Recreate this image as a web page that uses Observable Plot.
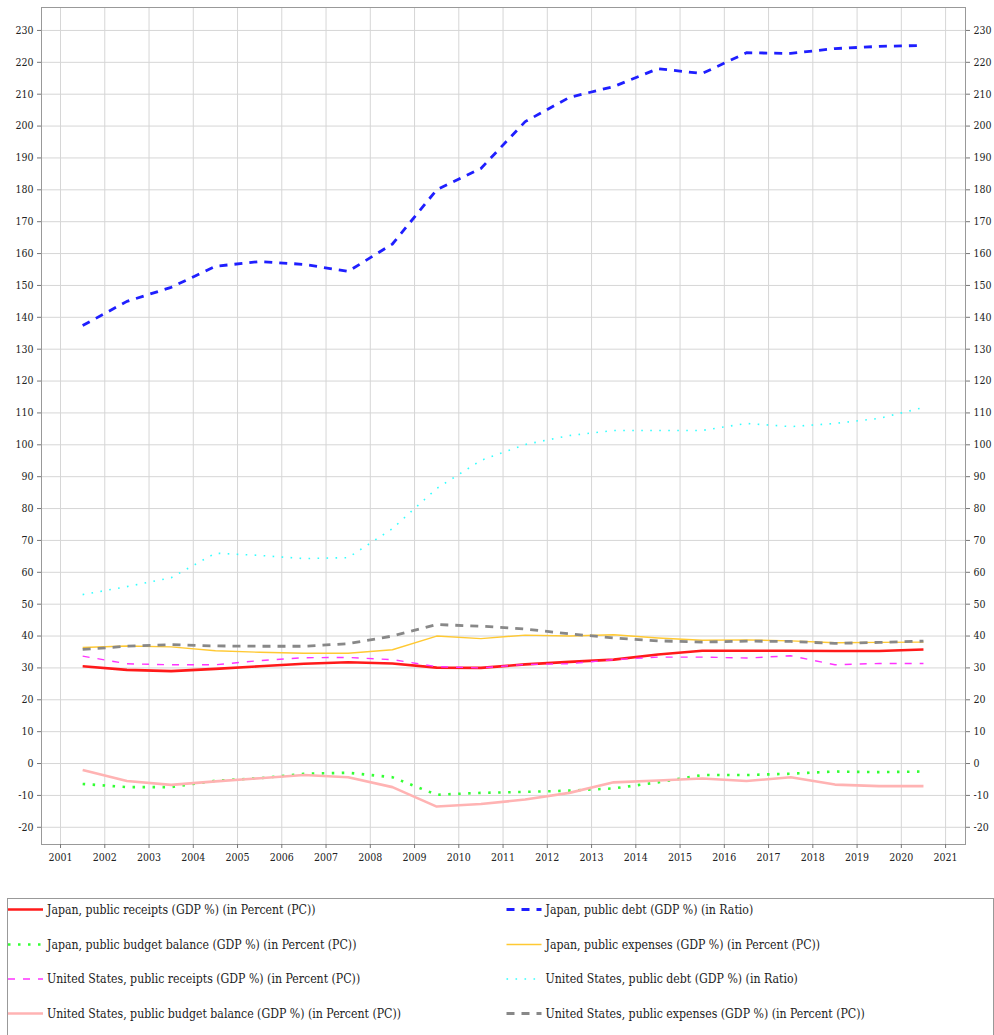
<!DOCTYPE html>
<html>
<head>
<meta charset="utf-8">
<script src="https://cdn.jsdelivr.net/npm/d3@7"></script>
<script src="https://cdn.jsdelivr.net/npm/@observablehq/plot@0.6"></script>
<style>
  html, body { margin: 0; padding: 0; background: #fff; }
  #wrap { position: relative; width: 994px; height: 1035px; overflow: hidden; }
  #legend { position: absolute; left: 7px; top: 898px; }
</style>
</head>
<body>
<div id="wrap"><div id="chart"></div><div id="legend"></div></div>
<script>
const years = [2001.5, 2002.5, 2003.5, 2004.5, 2005.5, 2006.5, 2007.5, 2008.5, 2009.5, 2010.5,
               2011.5, 2012.5, 2013.5, 2014.5, 2015.5, 2016.5, 2017.5, 2018.5, 2019.5, 2020.5];
const xTicks = [2001, 2002, 2003, 2004, 2005, 2006, 2007, 2008, 2009, 2010, 2011,
                2012, 2013, 2014, 2015, 2016, 2017, 2018, 2019, 2020, 2021];
const yTicks = [-20, -10, 0, 10, 20, 30, 40, 50, 60, 70, 80, 90, 100, 110, 120, 130, 140,
                150, 160, 170, 180, 190, 200, 210, 220, 230];

const japanReceipts = [30.5, 29.4, 29.0, 29.7, 30.5, 31.3, 31.8, 31.4, 30.1, 30.0,
                       31.1, 31.9, 32.6, 34.2, 35.4, 35.4, 35.4, 35.3, 35.3, 35.8];
const japanDebt = [137.4, 145.0, 149.4, 156.0, 157.5, 156.6, 154.4, 163.0, 180.0, 186.7,
                   201.4, 209.0, 212.4, 218.0, 216.5, 223.0, 222.8, 224.3, 225.0, 225.3];
const japanBalance = [-6.4, -7.4, -7.4, -5.4, -4.6, -3.2, -2.9, -4.3, -9.8, -9.2,
                      -8.9, -8.5, -7.8, -5.9, -3.6, -3.6, -3.2, -2.5, -2.7, -2.5];
const japanExpenses = [36.4, 36.9, 36.6, 35.4, 34.9, 34.6, 34.6, 35.7, 40.0, 39.2,
                       40.3, 40.0, 40.4, 39.4, 38.7, 38.8, 38.5, 37.9, 38.0, 38.1];
const usReceipts = [33.7, 31.3, 31.0, 31.0, 32.3, 33.2, 33.3, 32.6, 30.4, 30.0,
                    31.1, 31.3, 32.6, 33.4, 33.4, 33.1, 33.8, 31.0, 31.4, 31.4];
const usDebt = [53.0, 55.5, 58.3, 66.0, 65.3, 64.3, 64.6, 73.7, 86.3, 95.1,
                100.1, 102.9, 104.5, 104.5, 104.5, 106.7, 105.7, 106.7, 108.3, 111.7];
const usBalance = [-2.0, -5.5, -6.7, -5.6, -4.6, -3.6, -4.3, -7.4, -13.5, -12.7,
                   -11.3, -9.2, -5.9, -5.3, -4.7, -5.5, -4.3, -6.6, -7.1, -7.1];
const usExpenses = [35.8, 36.8, 37.3, 36.9, 36.8, 36.8, 37.6, 40.0, 43.6, 43.1,
                    42.2, 40.7, 39.4, 38.5, 38.1, 38.4, 38.3, 37.7, 38.0, 38.4];

const seriesNames = [
  "Japan, public receipts (GDP %) (in Percent (PC))",
  "Japan, public debt (GDP %) (in Ratio)",
  "Japan, public budget balance (GDP %) (in Percent (PC))",
  "Japan, public expenses (GDP %) (in Percent (PC))",
  "United States, public receipts (GDP %) (in Percent (PC))",
  "United States, public debt (GDP %) (in Ratio)",
  "United States, public budget balance (GDP %) (in Percent (PC))",
  "United States, public expenses (GDP %) (in Percent (PC))"
];
const seriesValues = [japanReceipts, japanDebt, japanBalance, japanExpenses,
                      usReceipts, usDebt, usBalance, usExpenses];
const styles = [
  {stroke: "#ff1a1a", strokeWidth: 2.6, dash: null, cap: "butt"},
  {stroke: "#1f1fff", strokeWidth: 2.8, dash: "8,7", cap: "butt"},
  {stroke: "#33ff33", strokeWidth: 2.6, dash: "2.5,7.5", cap: "butt"},
  {stroke: "#ffc933", strokeWidth: 1.4, dash: null, cap: "butt"},
  {stroke: "#ff33ff", strokeWidth: 1.4, dash: "7,8", cap: "butt"},
  {stroke: "#33ffff", strokeWidth: 1.6, dash: "1.6,7.4", cap: "butt"},
  {stroke: "#ffb3b3", strokeWidth: 2.6, dash: null, cap: "butt"},
  {stroke: "#888888", strokeWidth: 2.8, dash: "8,7", cap: "butt"}
];

const chartFont = "'DejaVu Serif Condensed', 'DejaVu Serif', serif";

const lineMarks = seriesValues.map((vals, k) => {
  const data = years.map((y, i) => ({year: y, value: vals[i]}));
  return Plot.line(data, {
    x: "year", y: "value",
    stroke: styles[k].stroke,
    strokeWidth: styles[k].strokeWidth,
    strokeDasharray: styles[k].dash,
    strokeLinecap: styles[k].cap,
    strokeLinejoin: "round"
  });
});

const fmtY = d => (d < 0 ? "-" + Math.abs(d) : String(d));

const chart = Plot.plot({
  width: 994,
  height: 898,
  marginLeft: 41,
  marginRight: 29,
  marginTop: 7,
  marginBottom: 54,
  style: {fontFamily: chartFont, fontSize: "10.5px", color: "#222", background: "#fff", overflow: "visible"},
  x: {domain: [2000.57, 2021.45]},
  y: {domain: [-25.4, 237.2]},
  marks: [
    Plot.gridX(xTicks, {stroke: "#d6d6d6", strokeOpacity: 1, strokeWidth: 1}),
    Plot.gridY(yTicks, {stroke: "#d6d6d6", strokeOpacity: 1, strokeWidth: 1}),
    Plot.frame({stroke: "#999"}),
    Plot.axisY(yTicks, {anchor: "left", tickSize: 4, tickPadding: 4, tickFormat: fmtY, label: null, stroke: "#777"}),
    Plot.axisY(yTicks, {anchor: "right", tickSize: 4, tickPadding: 4, tickFormat: fmtY, label: null, stroke: "#777"}),
    Plot.axisX(xTicks, {anchor: "bottom", tickSize: 4, tickPadding: 5, tickFormat: d => String(d), label: null, stroke: "#777"}),
    ...lineMarks
  ]
});
document.getElementById("chart").appendChild(chart);

// Legend
const lw = 987, lh = 140;
const lsvg = d3.create("svg").attr("width", lw).attr("height", lh)
  .style("font-family", chartFont).style("font-size", "12.2px");
lsvg.append("rect").attr("x", 0.5).attr("y", 0.5).attr("width", lw - 1).attr("height", lh + 10)
  .attr("fill", "#fff").attr("stroke", "#999");
const rowY = [11.5, 46.5, 81, 115.5];
seriesNames.forEach((name, k) => {
  const col = k % 2, row = Math.floor(k / 2);
  const x0 = col === 0 ? 1 : 499.5;
  const g = lsvg.append("g").attr("transform", `translate(${x0},${rowY[row]})`);
  const st = styles[k];
  g.append("line").attr("x1", 0).attr("x2", 35).attr("y1", 0).attr("y2", 0)
    .attr("stroke", st.stroke).attr("stroke-width", st.strokeWidth)
    .attr("stroke-dasharray", st.dash).attr("stroke-linecap", st.cap);
  g.append("text").attr("x", 39).attr("y", 0).attr("dy", "0.35em").attr("fill", "#222").text(name);
});
document.getElementById("legend").appendChild(lsvg.node());
</script>
</body>
</html>
